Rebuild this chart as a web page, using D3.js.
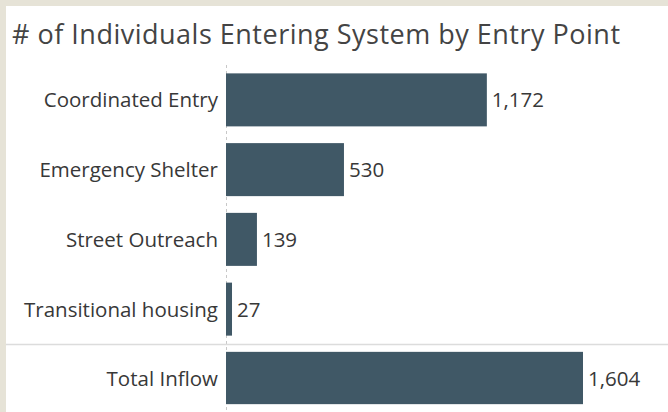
<!DOCTYPE html>
<html><head><meta charset="utf-8">
<script src="https://cdn.jsdelivr.net/npm/d3@7"></script>
<style>
html,body{margin:0;padding:0;background:#e6e3d7;}
svg{display:block;}
</style></head>
<body>
<svg id="chart" width="668" height="412"></svg>
<script>
const title = "# of Individuals Entering System by Entry Point";
const categories = ["Coordinated Entry","Emergency Shelter","Street Outreach","Transitional housing"];
const values = [1172, 530, 139, 27];
const totalLabel = "Total Inflow";
const totalValue = 1604;

const svg = d3.select("#chart");
const font = "'Open Sans', 'Noto Sans', sans-serif";
const barColor = "#405866";
const textColor = "#383838";

svg.append("rect").attr("x",0).attr("y",0).attr("width",668).attr("height",412).attr("fill","#e6e3d7");
svg.append("rect").attr("x",6).attr("y",6).attr("width",662).attr("height",406).attr("fill","#fff");

svg.append("text").attr("x",12).attr("y",44)
  .attr("font-family",font).attr("font-size",27).attr("letter-spacing",0.5).attr("fill","#444")
  .text(title);

const x = d3.scaleLinear().domain([0,1604]).range([226,583]);
const y = d3.scaleBand().domain(categories).range([65,344]).paddingInner(0.24).paddingOuter(0.12);
const y2 = d3.scaleBand().domain([totalLabel]).range([344,412]).paddingInner(0.2).paddingOuter(0.12);

svg.append("line").attr("x1",x(0)+0.5).attr("x2",x(0)+0.5).attr("y1",65).attr("y2",412)
  .attr("stroke","#c8c8c8").attr("stroke-width",1).attr("stroke-dasharray","3,3");

svg.append("line").attr("x1",6).attr("x2",668).attr("y1",344.5).attr("y2",344.5)
  .attr("stroke","#dcdcdc").attr("stroke-width",1.5);

function drawGroup(cats, vals, scale){
  const data = cats.map((c,i)=>({c, v: vals[i]}));
  svg.append("g").selectAll("rect").data(data).join("rect")
    .attr("x", x(0)).attr("y", d=>scale(d.c))
    .attr("width", d=>x(d.v)-x(0)).attr("height", scale.bandwidth())
    .attr("fill", barColor);
  svg.append("g").selectAll("text.lab").data(data).join("text")
    .attr("x", 218).attr("y", d=>scale(d.c)+scale.bandwidth()/2)
    .attr("dy","0.37em").attr("text-anchor","end")
    .attr("font-family",font).attr("font-size",20.5).attr("fill",textColor)
    .text(d=>d.c);
  svg.append("g").selectAll("text.val").data(data).join("text")
    .attr("x", d=>x(d.v)+5).attr("y", d=>scale(d.c)+scale.bandwidth()/2)
    .attr("dy","0.37em")
    .attr("font-family",font).attr("font-size",20.5).attr("fill",textColor)
    .text(d=>d3.format(",")(d.v));
}
drawGroup(categories, values, y);
drawGroup([totalLabel], [totalValue], y2);
</script>
</body></html>
